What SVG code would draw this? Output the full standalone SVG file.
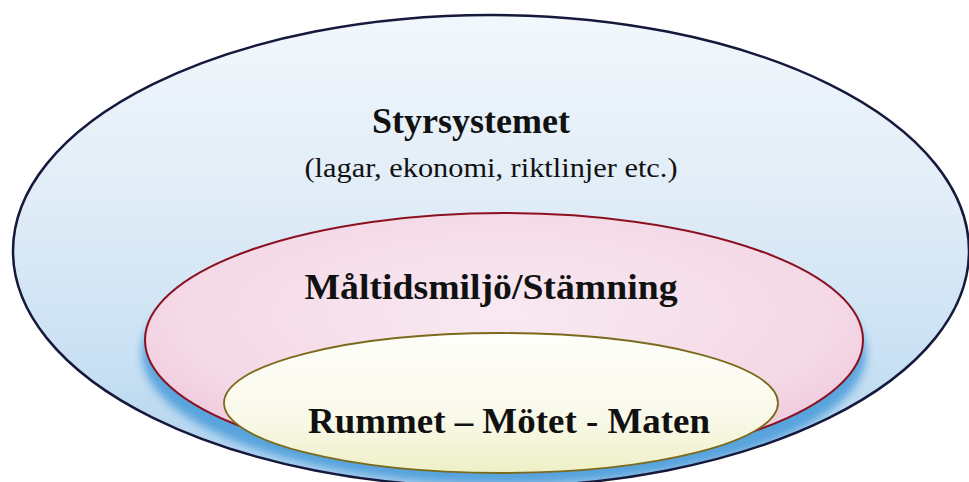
<svg xmlns="http://www.w3.org/2000/svg" width="969" height="482" viewBox="0 0 969 482">
  <defs>
    <linearGradient id="gOuter" x1="0" y1="0" x2="0" y2="1">
      <stop offset="0" stop-color="#f2f7fc"/>
      <stop offset="0.4" stop-color="#e0ecf7"/>
      <stop offset="0.75" stop-color="#c8e0f3"/>
      <stop offset="1" stop-color="#a9d0ee"/>
    </linearGradient>
    <radialGradient id="gMid" cx="0.5" cy="0.4" r="0.62">
      <stop offset="0" stop-color="#f8e9f1"/>
      <stop offset="0.75" stop-color="#f4d8e6"/>
      <stop offset="1" stop-color="#eec6da"/>
    </radialGradient>
    <linearGradient id="gInner" x1="0" y1="0" x2="0" y2="1">
      <stop offset="0" stop-color="#fefefa"/>
      <stop offset="0.6" stop-color="#f9f9ea"/>
      <stop offset="1" stop-color="#eef0c6"/>
    </linearGradient>
    <filter id="blur" x="-10%" y="-20%" width="120%" height="140%">
      <feGaussianBlur stdDeviation="4"/>
    </filter>
    <clipPath id="clipOuter">
      <ellipse cx="491" cy="251" rx="478" ry="236"/>
    </clipPath>
  </defs>
  <style>
    .lbl { font-family: "Liberation Serif", "Times New Roman", serif; fill: #111; text-anchor: middle; }
    .b { font-weight: bold; font-size: 36px; }
    .r { font-size: 28px; }
  </style>
  <rect width="969" height="482" fill="#ffffff"/>
  <g id="outer">
    <ellipse cx="491" cy="251" rx="478" ry="236" fill="url(#gOuter)"/>
    <g clip-path="url(#clipOuter)">
      <ellipse cx="504" cy="354" rx="362" ry="130" fill="#3f96d8" filter="url(#blur)" opacity="0.8"/>
    </g>
    <ellipse cx="491" cy="251" rx="478" ry="236" fill="none" stroke="#16183c" stroke-width="2.5"/>
    <text class="lbl b" x="471" y="133">Styrsystemet</text>
    <text class="lbl r" x="491" y="177" textLength="373" lengthAdjust="spacingAndGlyphs">(lagar, ekonomi, riktlinjer etc.)</text>
  </g>
  <g id="middle">
    <ellipse cx="504" cy="340" rx="359" ry="127" fill="url(#gMid)" stroke="#8b1020" stroke-width="2"/>
    <text class="lbl b" x="491" y="299" textLength="373" lengthAdjust="spacingAndGlyphs">Måltidsmiljö/Stämning</text>
  </g>
  <g id="inner">
    <ellipse cx="501" cy="403" rx="277" ry="70" fill="url(#gInner)" stroke="#7c6a1c" stroke-width="1.8"/>
    <text class="lbl b" x="509" y="433" textLength="402" lengthAdjust="spacingAndGlyphs">Rummet – Mötet - Maten</text>
  </g>
  <g id="connectors"/>
</svg>
